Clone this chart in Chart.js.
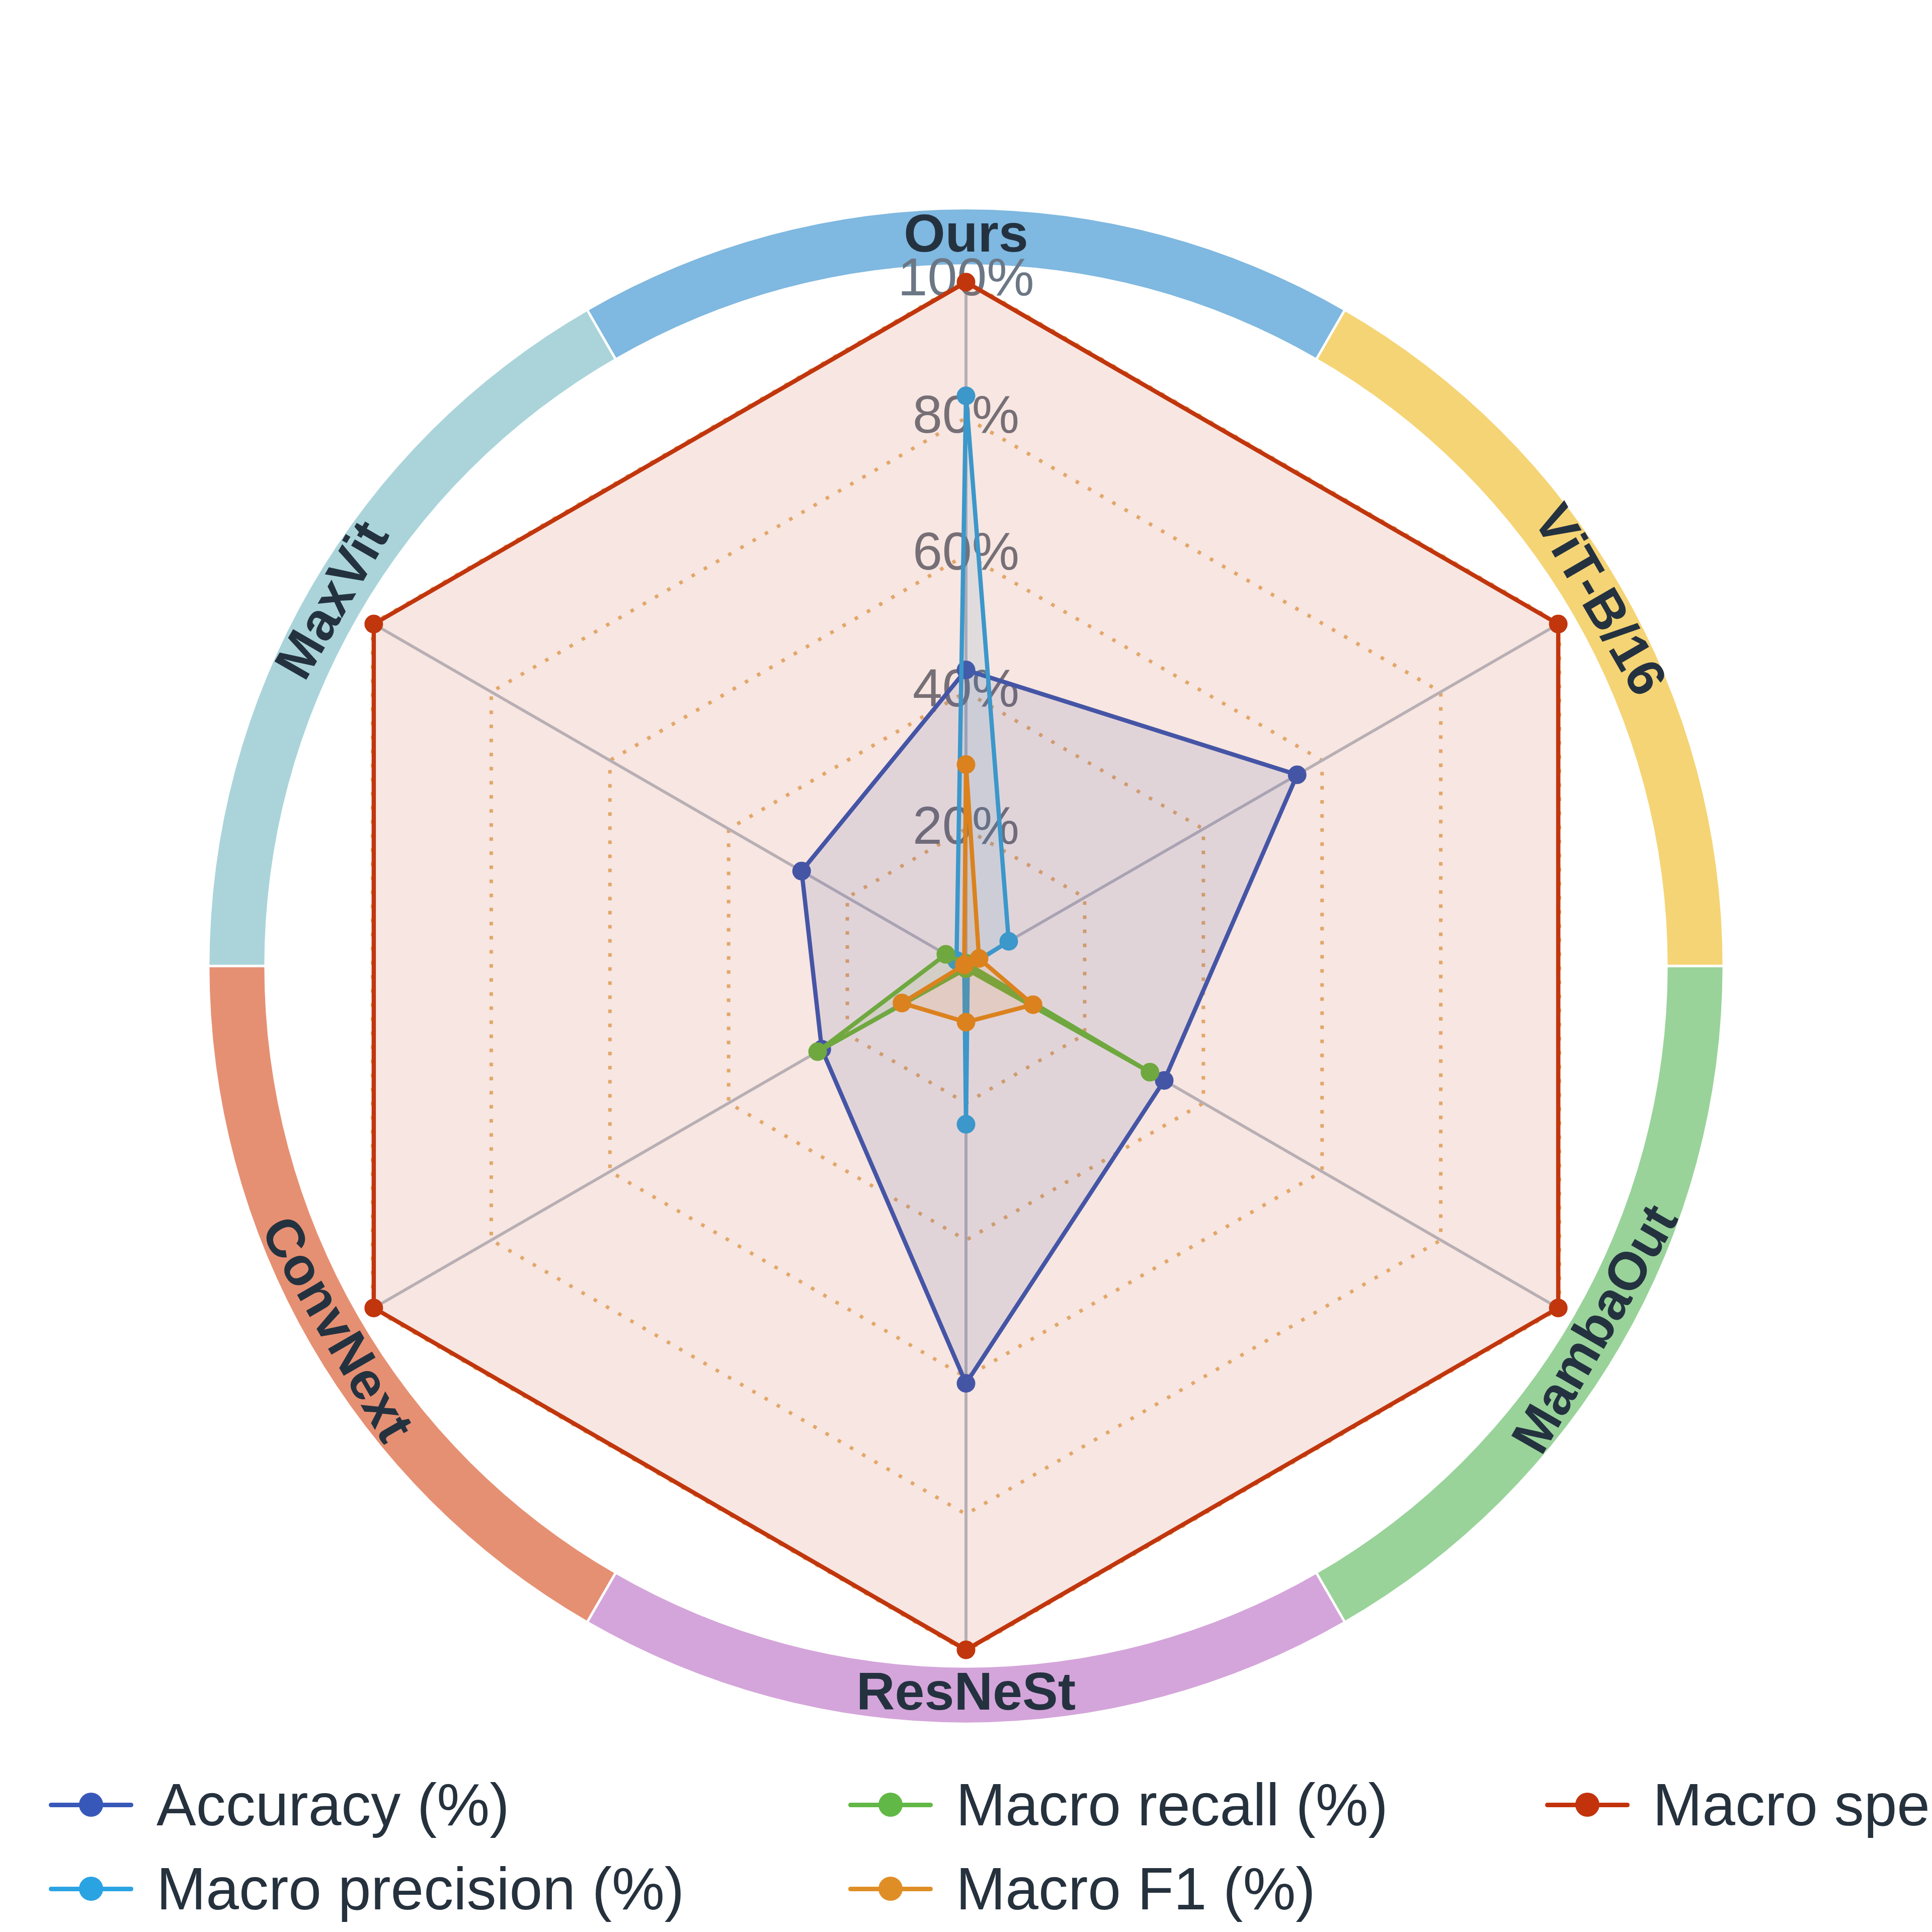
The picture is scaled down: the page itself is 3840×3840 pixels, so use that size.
<!DOCTYPE html>
<html>
<head>
<meta charset="utf-8">
<script src="https://cdn.jsdelivr.net/npm/chart.js@4.4.1/dist/chart.umd.min.js"></script>
<style>
  html, body { margin: 0; padding: 0; background: #ffffff; overflow: hidden; }
  #wrap { position: relative; width: 3840px; height: 3840px; overflow: hidden; }
  #chartBox { position: absolute; left: 0; top: 0; width: 3840px; height: 3840px; }
  .leg { position: absolute; display: flex; align-items: center; height: 120px; white-space: nowrap;
         font-family: 'Liberation Sans', Arial, sans-serif; font-size: 118px; color: #25313d; }
  .mk { position: relative; width: 168px; height: 48px; flex: none; }
  .mk .ln { position: absolute; left: 0; top: 19.5px; width: 168px; height: 9px; border-radius: 5px; }
  .mk .dt { position: absolute; left: 60px; top: 0; width: 48px; height: 48px; border-radius: 50%; }
  .leg .tx { margin-left: 46px; line-height: 1; }
</style>
</head>
<body>
<div id="wrap">
  <div id="chartBox"><canvas id="c"></canvas></div>
  <div id="legend"></div>
</div>
<script>
// ---- data ----
const categories = ['Ours', 'ViT-B/16', 'MambaOut', 'ResNeSt', 'ConvNext', 'MaxVit'];
const accuracy    = [43.2, 55.8, 33.4, 60.9, 24.3, 27.7];
const precision   = [83.2, 7.2, 0.3, 23.1, 0.3, 1.6];
const recall      = [0.4, 0.4, 31.0, 0.4, 25.0, 3.4];
const f1          = [29.4, 2.2, 11.3, 8.2, 10.8, 0.3];
const specificity = [99.8, 99.8, 99.8, 99.8, 99.8, 99.8];
const tickValues  = [0, 20, 40, 60, 80, 100];
const seriesNames = ['Accuracy (%)', 'Macro precision (%)', 'Macro recall (%)', 'Macro F1 (%)', 'Macro specificity (%)'];

// ---- styles ----
const lineColors   = ['#4555a6', '#3c97ca', '#6fa83f', '#db821e', '#c1360d'];
const fillColors   = ['rgba(69,85,166,0.12)', 'rgba(60,151,202,0.12)', 'rgba(111,168,63,0.12)', 'rgba(219,130,30,0.12)', 'rgba(193,54,13,0.125)'];
const legendColors = ['#3858b9', '#2aa3e2', '#62b846', '#df8e26', '#c2330c'];
const ringColors   = ['#7fb8e0', '#f5d475', '#99d39a', '#d4a5da', '#e69073', '#aad4da'];
const drawOrder    = [3, 2, 1, 0, 4];
const FONT = "'Liberation Sans', Arial, Helvetica, sans-serif";

// target geometry of the radar (page pixels)
const TARGET_CX = 1920, TARGET_CY = 1920, TARGET_R = 1362;

const seriesData = [accuracy, precision, recall, f1, specificity];

const datasets = seriesNames.map((name, i) => ({
  label: name,
  data: seriesData[i],
  borderColor: lineColors[i],
  backgroundColor: fillColors[i],
  pointBackgroundColor: lineColors[i],
  pointBorderColor: lineColors[i],
  pointRadius: 17,
  pointBorderWidth: 3,
  borderWidth: 8.5,
  fill: true,
  tension: 0,
  order: drawOrder[i]
}));

const ringPlugin = {
  id: 'ringPlugin',
  beforeDraw(chart) {
    const s = chart.scales.r;
    const ctx = chart.ctx;
    const R = s.drawingArea, cx = s.xCenter, cy = s.yCenter;
    const n = categories.length, step = 2 * Math.PI / n;
    ctx.save();
    for (let i = 0; i < n; i++) {
      const a = s.getIndexAngle(i) - Math.PI / 2;
      ctx.beginPath();
      ctx.arc(cx, cy, R * 1.104, a - step / 2, a + step / 2);
      ctx.arc(cx, cy, R * 1.024, a + step / 2, a - step / 2, true);
      ctx.closePath();
      ctx.fillStyle = ringColors[i];
      ctx.fill();
    }
    ctx.strokeStyle = '#ffffff';
    ctx.lineWidth = 5;
    for (let i = 0; i < n; i++) {
      const a = s.getIndexAngle(i) - Math.PI / 2 - step / 2;
      ctx.beginPath();
      ctx.moveTo(cx + Math.cos(a) * R * 1.01, cy + Math.sin(a) * R * 1.01);
      ctx.lineTo(cx + Math.cos(a) * R * 1.12, cy + Math.sin(a) * R * 1.12);
      ctx.stroke();
    }
    ctx.restore();
  },
  afterDraw(chart) {
    const s = chart.scales.r;
    const ctx = chart.ctx;
    const R = s.drawingArea, cx = s.xCenter, cy = s.yCenter;
    ctx.save();
    ctx.font = 'bold 106px ' + FONT;
    ctx.fillStyle = '#243240';
    ctx.textAlign = 'center';
    ctx.textBaseline = 'middle';
    categories.forEach((c, i) => {
      const th = s.getIndexAngle(i);
      const r = R * 1.064;
      const x = cx + Math.sin(th) * r;
      const y = cy - Math.cos(th) * r;
      let rot = th;
      if (th > Math.PI / 2 + 1e-6 && th < 3 * Math.PI / 2 - 1e-6) rot = th - Math.PI;
      else if (th >= 3 * Math.PI / 2 - 1e-6) rot = th - 2 * Math.PI;
      ctx.save();
      ctx.translate(x, y);
      ctx.rotate(rot);
      ctx.fillText(c, 0, 0);
      ctx.restore();
    });
    ctx.restore();
  }
};

const chart = new Chart(document.getElementById('c'), {
  type: 'radar',
  data: { labels: categories, datasets },
  options: {
    responsive: true,
    maintainAspectRatio: false,
    animation: false,
    devicePixelRatio: 1,
    layout: { padding: { left: 506, right: 506, top: 503, bottom: 509 } },
    plugins: { legend: { display: false }, tooltip: { enabled: false } },
    scales: {
      r: {
        min: 0,
        max: 100,
        startAngle: 0,
        afterBuildTicks(scale) { scale.ticks = tickValues.map(v => ({ value: v })); },
        angleLines: { display: true, color: '#b7c1cd', lineWidth: 6 },
        grid: { color: 'rgb(232,182,118)', lineWidth: 7, borderDash: [7, 21] },
        border: { dash: [7, 21] },
        pointLabels: { display: false },
        ticks: {
          stepSize: 20,
          showLabelBackdrop: false,
          color: '#6c7785',
          font: { size: 106, family: FONT },
          callback: v => v + '%'
        }
      }
    }
  },
  plugins: [ringPlugin]
});

// fine-tune the layout padding so the radar lands on the target centre/radius
(function fit() {
  const s = chart.scales.r;
  const p = chart.options.layout.padding;
  const dR = TARGET_R - s.drawingArea;
  const dx = TARGET_CX - s.xCenter;
  const dy = TARGET_CY - s.yCenter;
  chart.options.layout.padding = {
    left: p.left - dR + dx,
    right: p.right - dR - dx,
    top: p.top - dR + dy,
    bottom: p.bottom - dR - dy
  };
  chart.update('none');
})();

// ---- legend (columns as in the reference) ----
const legendPos = [
  { x: 97, y: 3587 },   // Accuracy
  { x: 97, y: 3754 },   // Macro precision
  { x: 1686, y: 3587 }, // Macro recall
  { x: 1686, y: 3754 }, // Macro F1
  { x: 3071, y: 3587 }  // Macro specificity
];
const legend = document.getElementById('legend');
seriesNames.forEach((name, i) => {
  const d = document.createElement('div');
  d.className = 'leg';
  d.style.left = legendPos[i].x + 'px';
  d.style.top = (legendPos[i].y - 60) + 'px';
  d.innerHTML = '<div class="mk"><div class="ln" style="background:' + legendColors[i] + '"></div>' +
    '<div class="dt" style="background:' + legendColors[i] + '"></div></div><span class="tx"></span>';
  d.querySelector('.tx').textContent = name;
  legend.appendChild(d);
});
</script>
</body>
</html>
